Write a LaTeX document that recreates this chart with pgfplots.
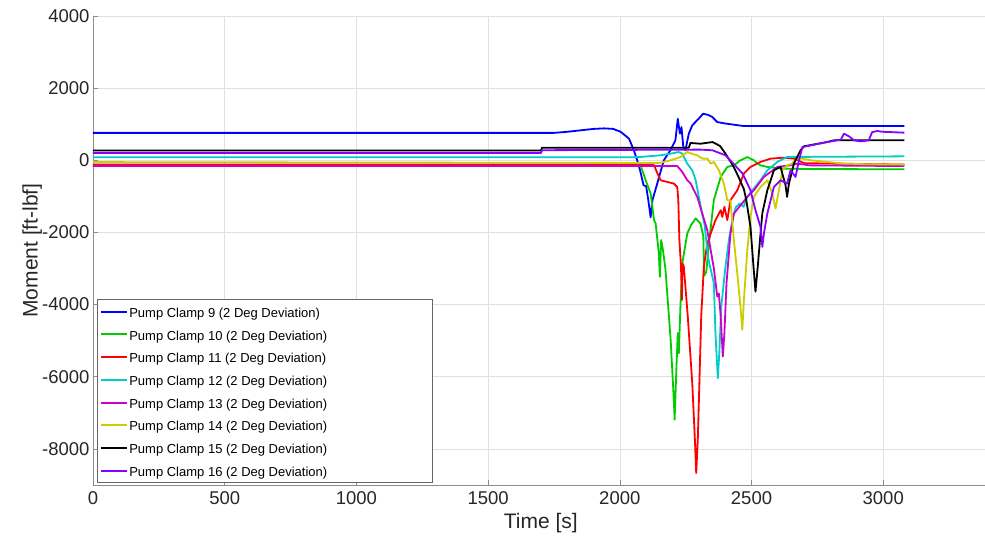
\documentclass[border=0pt]{standalone}
\usepackage{fontspec}
\setmainfont{Liberation Sans}
\usepackage{pgfplots}
\pgfplotsset{compat=1.18}
\definecolor{c9}{RGB}{0,0,255}
\definecolor{c10}{RGB}{0,204,0}
\definecolor{c11}{RGB}{255,0,0}
\definecolor{c12}{RGB}{0,204,204}
\definecolor{c13}{RGB}{204,0,204}
\definecolor{c14}{RGB}{204,204,0}
\definecolor{c15}{RGB}{0,0,0}
\definecolor{c16}{RGB}{136,0,255}
\newcommand{\lent}[1]{\makebox[300pt][l]{#1}}
\begin{document}
\begin{tikzpicture}
\begin{axis}[
  scale only axis, width=895.6pt, height=469pt,
  xmin=0, xmax=3400, ymin=-9000, ymax=4000,
  xtick={0,500,...,3000}, ytick={-8000,-6000,...,4000},
  grid=major, major grid style={draw=black!12, line width=0.6pt},
  axis x line*=bottom, axis y line*=left,
  axis line style={draw=black!45, line width=0.8pt},
  tick align=inside, major tick length=5pt,
  tick style={draw=black!45, line width=0.6pt},
  ticklabel style={font=\fontsize{18.5}{20}\selectfont, text=black!85},
  xticklabel style={yshift=-3pt},
  /pgf/number format/assume math mode=true,
  scaled ticks=false,
  /pgf/number format/set thousands separator={},
  xlabel={Time [s]}, ylabel={Moment [ft-lbf]},
  label style={font=\fontsize{21}{24}\selectfont, text=black!85},
  xlabel style={at={(axis description cs:0.5,-0.082)}, anchor=center},
  ylabel style={at={(axis description cs:-0.068,0.5)}, anchor=center},
  legend style={at={(rel axis cs:0,0)}, anchor=south west, xshift=4pt, yshift=2pt,
    draw=black!60, line width=0.6pt, fill=white,
    font=\fontsize{13}{15}\selectfont,
    inner xsep=2.5pt, inner ysep=0.7pt, row sep=0pt, column sep=1.5pt,
    cells={anchor=west}, nodes={inner sep=0pt, text height=17pt, text depth=5.7pt}},
  legend image code/.code={\draw[#1, line width=2pt] (0pt,0pt) -- (26pt,0pt);},
  every axis plot/.append style={line width=1.8pt, line join=round},
]
\coordinate (ll) at (rel axis cs:0,0);
\coordinate (ur) at (rel axis cs:1,1);
% Pump Clamp 9
\addplot[c9] coordinates {(0,760) (1750,760) (1800,790) (1850,830) (1900,870) (1940,885) (1975,870) (2003,790) (2035,600) (2052,300) (2066,0) (2077,-280) (2090,-690) (2100,-720) (2108,-1100) (2117,-1580) (2124,-1100) (2142,-645) (2167,0) (2192,277) (2211,553) (2220,1150) (2228,740) (2234,920) (2241,370) (2249,280) (2262,740) (2275,970) (2299,1150) (2316,1290) (2335,1260) (2351,1200) (2370,1060) (2400,1020) (2440,980) (2470,950) (3080,950)};
% Pump Clamp 10
\addplot[c10] coordinates {(0,-150) (2070,-150) (2080,-160) (2098,-553) (2117,-920) (2130,-1660) (2136,-1750) (2148,-2580) (2152,-3230) (2157,-2210) (2162,-2400) (2173,-3000) (2180,-3690) (2193,-4980) (2205,-6640) (2208,-7190) (2215,-5720) (2220,-4790) (2224,-5350) (2230,-4060) (2237,-2860) (2256,-2030) (2270,-1800) (2288,-1610) (2306,-1750) (2317,-2100) (2320,-3200) (2328,-3100) (2340,-2200) (2357,-1100) (2383,-460) (2408,-184) (2433,-140) (2458,0) (2484,90) (2496,46) (2509,0) (2515,-46) (2534,-140) (2560,-184) (2623,-230) (2700,-240) (3080,-250)};
% Pump Clamp 11
\addplot[c11] coordinates {(0,-120) (2125,-120) (2130,-140) (2142,-350) (2155,-553) (2180,-600) (2205,-645) (2218,-740) (2222,-1100) (2226,-2200) (2232,-2900) (2236,-3870) (2238,-2860) (2243,-2950) (2258,-4330) (2275,-6180) (2285,-7745) (2290,-8670) (2296,-7745) (2302,-6180) (2309,-4330) (2319,-2950) (2332,-2305) (2345,-2030) (2363,-1660) (2383,-1383) (2389,-1570) (2397,-1290) (2408,-1660) (2420,-1106) (2446,-830) (2471,-368) (2496,-184) (2534,-46) (2572,46) (2623,74) (2661,46) (2700,-80) (3080,-120)};
% Pump Clamp 12
\addplot[c12] coordinates {(0,85) (2050,85) (2078,92) (2154,138) (2193,184) (2223,230) (2237,184) (2256,-92) (2275,-277) (2288,-553) (2300,-1015) (2313,-1500) (2322,-1800) (2335,-2700) (2357,-3410) (2363,-4790) (2372,-6040) (2378,-5300) (2385,-4060) (2401,-2950) (2414,-2210) (2427,-1660) (2440,-1300) (2455,-1200) (2470,-1290) (2483,-1015) (2534,-553) (2560,-277) (2598,-46) (2635,92) (3080,110)};
% Pump Clamp 13
\addplot[c13] coordinates {(0,-160) (2218,-160) (2237,-320) (2256,-553) (2269,-645) (2294,-1015) (2332,-1936) (2357,-3000) (2370,-3780) (2376,-3690) (2383,-4330) (2391,-5440) (2397,-4794) (2405,-3410) (2420,-2030) (2433,-1475) (2484,-1015) (2509,-830) (2547,-460) (2598,-184) (2648,-138) (2673,-92) (2720,-140) (3080,-160)};
% Pump Clamp 14
\addplot[c14] coordinates {(0,-50) (2150,-74) (2193,0) (2230,92) (2256,230) (2275,180) (2294,138) (2313,46) (2332,46) (2345,-92) (2357,-46) (2376,-277) (2395,-645) (2408,-1106) (2420,-1106) (2433,-2213) (2446,-3135) (2458,-4058) (2465,-4700) (2471,-3872) (2484,-2489) (2496,-1568) (2509,-1015) (2534,-738) (2560,-553) (2579,-922) (2591,-1337) (2604,-830) (2617,-277) (2635,-138) (2654,-92) (2673,46) (2693,46) (2724,0) (2787,-46) (2851,-92) (2940,-110) (3080,-120)};
% Pump Clamp 15
\addplot[c15] coordinates {(0,270) (1700,270) (1705,350) (2262,350) (2268,480) (2306,460) (2352,505) (2380,400) (2401,185) (2430,-150) (2450,-450) (2471,-800) (2480,-1100) (2496,-1845) (2508,-3000) (2515,-3640) (2523,-3000) (2532,-2213) (2541,-1466) (2560,-830) (2585,-277) (2610,-184) (2629,-690) (2635,-1015) (2642,-645) (2661,-92) (2686,277) (2699,387) (2787,506) (2812,553) (3080,553)};
% Pump Clamp 16
\addplot[c16] coordinates {(0,200) (1700,200) (1705,280) (2306,296) (2352,277) (2401,138) (2431,-92) (2466,-368) (2496,-830) (2515,-1383) (2534,-1845) (2541,-2400) (2547,-2028) (2560,-1475) (2585,-738) (2610,-553) (2635,-645) (2648,-277) (2667,-461) (2680,0) (2693,368) (2787,506) (2839,572) (2851,738) (2870,664) (2889,553) (2914,525) (2945,553) (2958,783) (2977,811) (3000,790) (3080,766)};
\legend{\lent{Pump Clamp 9 (2 Deg Deviation)},\lent{Pump Clamp 10 (2 Deg Deviation)},\lent{Pump Clamp 11 (2 Deg Deviation)},\lent{Pump Clamp 12 (2 Deg Deviation)},\lent{Pump Clamp 13 (2 Deg Deviation)},\lent{Pump Clamp 14 (2 Deg Deviation)},\lent{Pump Clamp 15 (2 Deg Deviation)},\lent{Pump Clamp 16 (2 Deg Deviation)}}
\end{axis}
\pgfresetboundingbox
\path ([xshift=-93pt,yshift=-53pt]ll) rectangle ([xshift=-3.6pt,yshift=16pt]ur);
\end{tikzpicture}
\end{document}
